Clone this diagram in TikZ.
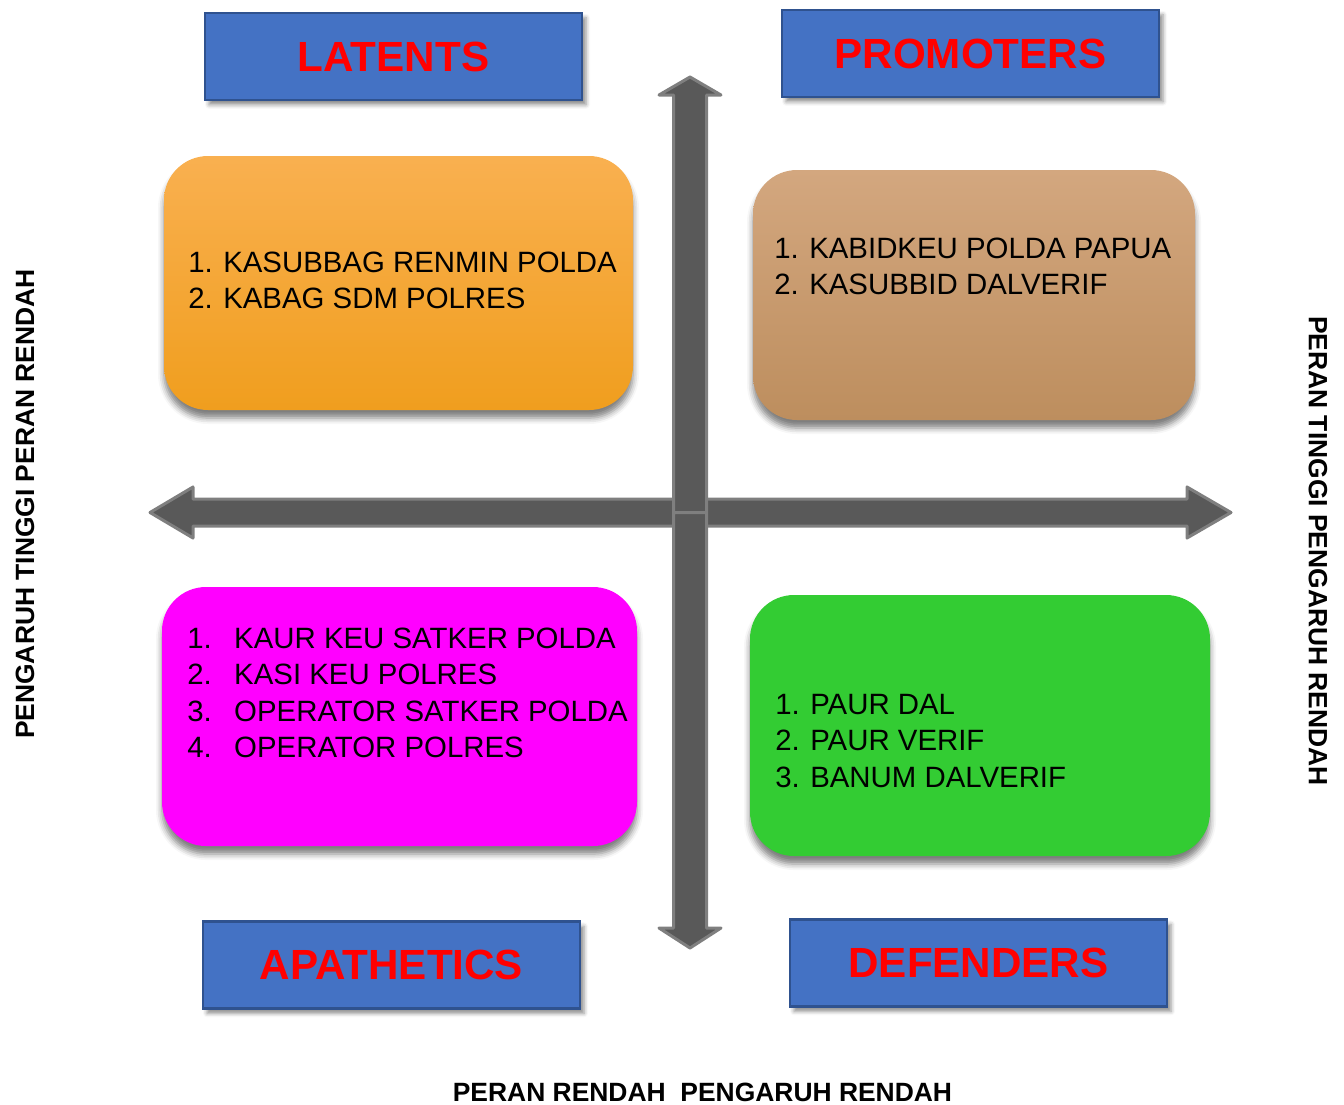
\documentclass[tikz,border=0pt]{standalone}
\usepackage{fontspec}
\setmainfont{Liberation Sans}
\usetikzlibrary{fit,shadows.blur}

\definecolor{titleblue}{HTML}{4472C4}
\definecolor{titleedge}{HTML}{2F528F}
\definecolor{titlered}{HTML}{FF0000}
\definecolor{orangetop}{HTML}{F9B050}
\definecolor{orangebot}{HTML}{F09E1E}
\definecolor{browntop}{HTML}{D3A77F}
\definecolor{brownbot}{HTML}{BD8E5E}
\definecolor{quadpink}{HTML}{FF00FF}
\definecolor{quadgreen}{HTML}{33CC33}
\definecolor{arrowfill}{HTML}{595959}
\definecolor{arrowedge}{HTML}{7F7F7F}

\tikzset{
  titlebox/.style={draw=titleedge, line width=0.6mm, fill=titleblue, inner sep=0pt,
    minimum width=94.25mm, minimum height=21.75mm,
    text=titlered, font=\fontsize{30}{36}\selectfont\bfseries,
    blur shadow={shadow xshift=1mm, shadow yshift=-1.2mm, shadow blur radius=1mm, shadow opacity=45}},
  quadbox/.style={rounded corners=11mm, inner sep=0pt,
    blur shadow={shadow xshift=0mm, shadow yshift=-2mm, shadow blur radius=1.5mm, shadow opacity=50}},
  itemtext/.style={anchor=base west, inner sep=0pt, font=\fontsize{20.9}{24}\selectfont},
  sidelabel/.style={inner sep=0pt, font=\fontsize{18.8}{22}\selectfont\bfseries},
  axisarrow/.style={fill=arrowfill, draw=arrowedge, line width=0.75mm, line join=round},
}

\begin{document}
\begin{tikzpicture}[x=0.25mm, y=-0.25mm]
    \useasboundingbox (0,0) rectangle (1344,1104);

    % -- Kuadran (kotak isi) --
    \node[quadbox, top color=orangetop, bottom color=orangebot, fit={(164,156) (633,410)}] (latentbox) {};
    \node[quadbox, top color=browntop, bottom color=brownbot, fit={(753,170) (1195,420)}] (promotbox) {};
    \node[quadbox, fill=quadpink, fit={(162,587) (637,846)}] (apathbox) {};
    \node[quadbox, fill=quadgreen, fit={(750,595) (1210,856)}] (defendbox) {};

    % -- Sumbu (panah) --
    % Horizontal
    \draw[axisarrow] (690,499) -- (193,499) -- (193,487) -- (150,512.5) -- (193,538) -- (193,526) -- (690,526) -- cycle;
    \draw[axisarrow] (690,499) -- (1187,499) -- (1187,487) -- (1231,512.5) -- (1187,538) -- (1187,526) -- (690,526) -- cycle;
    % Vertikal
    \draw[axisarrow] (673.5,512.5) -- (673.5,95) -- (659,95) -- (690,77) -- (721,95) -- (706.5,95) -- (706.5,512.5) -- cycle;
    \draw[axisarrow] (673.5,512.5) -- (673.5,928) -- (659,928) -- (690,948) -- (721,928) -- (706.5,928) -- (706.5,512.5) -- cycle;

    % -- Judul kuadran --
    \node[titlebox] (latents) at (393.5,56.5) {LATENTS};
    \node[titlebox] (promoters) at (970.5,53.5) {PROMOTERS};
    \node[titlebox] (apathetics) at (391.5,965) {APATHETICS};
    \node[titlebox] (defenders) at (978.5,963) {DEFENDERS};

    % -- Isi --
    \foreach \t [count=\i] in {KASUBBAG RENMIN POLDA, KABAG SDM POLRES}
        \node[itemtext] (latent-\i) at (188,{272+36.5*(\i-1)}) {\makebox[24.9pt][l]{\i.}\t};
    \foreach \t [count=\i] in {KABIDKEU POLDA PAPUA, KASUBBID DALVERIF}
        \node[itemtext] (promot-\i) at (774,{258+36.5*(\i-1)}) {\makebox[24.9pt][l]{\i.}\t};
    \foreach \t [count=\i] in {KAUR KEU SATKER POLDA, KASI KEU POLRES, OPERATOR SATKER POLDA, OPERATOR POLRES}
        \node[itemtext] (apath-\i) at (187,{648+36.5*(\i-1)}) {\makebox[33.4pt][l]{\i.}\t};
    \foreach \t [count=\i] in {PAUR DAL, PAUR VERIF, BANUM DALVERIF}
        \node[itemtext] (defend-\i) at (775,{714+36.5*(\i-1)}) {\makebox[24.9pt][l]{\i.}\t};

    % -- Label sumbu --
    \node[sidelabel, rotate=90] (leftlabel) at (25,504) {PENGARUH TINGGI PERAN RENDAH};
    \node[sidelabel, rotate=-90] (rightlabel) at (1318,551) {PERAN TINGGI PENGARUH RENDAH};
    \node[sidelabel, anchor=base] (bottomlabel) at (702.5,1101) {PERAN RENDAH \ PENGARUH RENDAH};
\end{tikzpicture}
\end{document}
